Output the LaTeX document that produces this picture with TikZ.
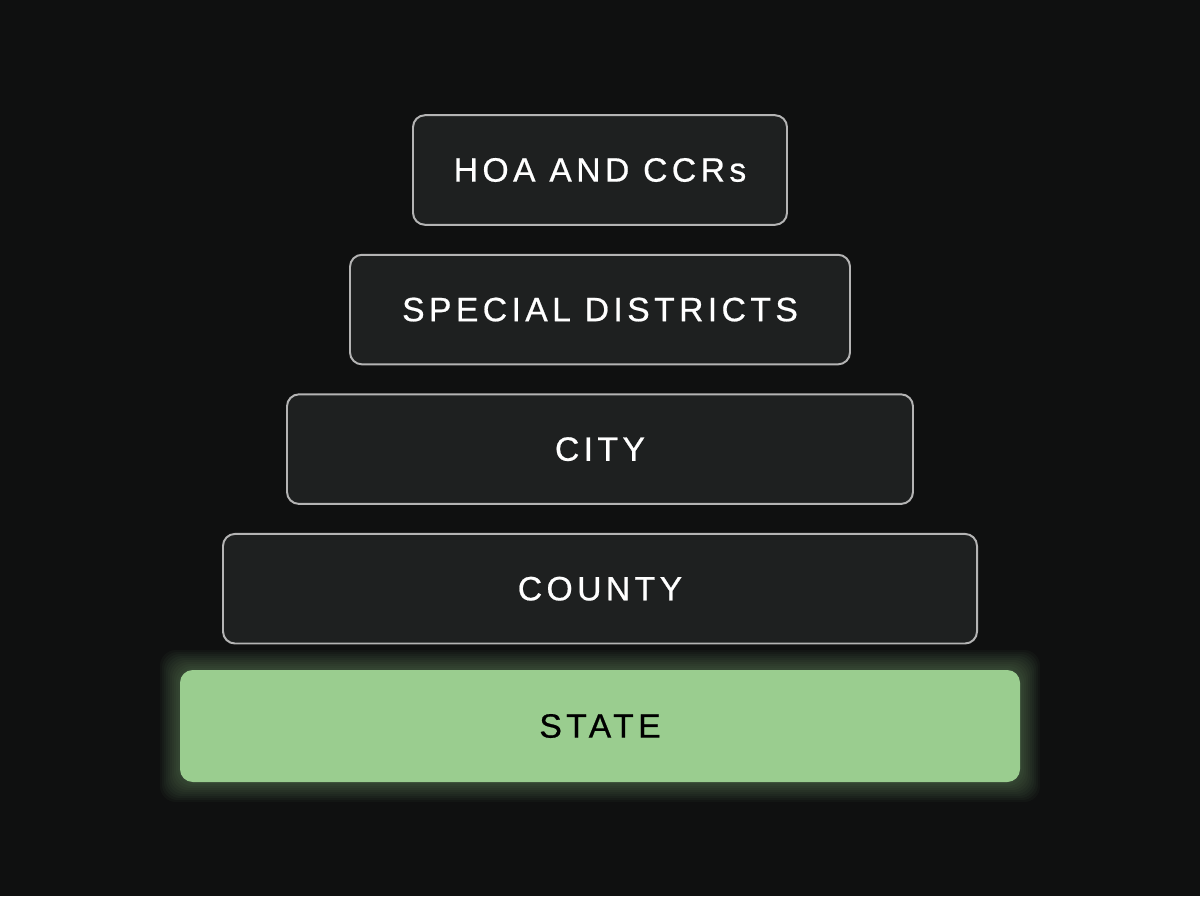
\documentclass[tikz,border=0pt]{standalone}
\usepackage{fontspec}
\setmainfont{Liberation Sans}
\usepackage{tikz}
\usetikzlibrary{positioning}
\definecolor{bgdark}{HTML}{0F1010}
\definecolor{boxfill}{HTML}{1E2020}
\definecolor{boxline}{HTML}{B4B4B4}
\definecolor{stategreen}{HTML}{9ACD8F}
\newfontfamily\tierfont[LetterSpace=13,FakeBold=0.6]{Liberation Sans}
\tikzstyle{tier} =
[
	draw=boxline,rectangle,rounded corners=0.3cm,line width=1.4pt,
	fill=boxfill,text=white,font=\tierfont\fontsize{24}{27}\selectfont,
	minimum height=2.74cm, inner sep=0pt
]
\tikzstyle{greentier} =
[
	rectangle,rounded corners=0.32cm,
	fill=stategreen,text=black,font=\tierfont\fontsize{24}{27}\selectfont,
	minimum height=2.8cm, inner sep=0pt
]

\begin{document}
\begin{tikzpicture}
\fill[bgdark] (0,0) rectangle (30,-22.4);
\useasboundingbox (0,0) rectangle (30,-22.4);

\node[tier, minimum width=9.35cm] (hoa) at (15,-4.25) {HOA AND CCRs};
\node[tier, minimum width=12.5cm] (special) [below=0.7cm of hoa] {SPECIAL DISTRICTS};
\node[tier, minimum width=15.65cm] (city) [below=0.7cm of special] {CITY};
\node[tier, minimum width=18.85cm] (county) [below=0.7cm of city] {COUNTY};

% glow behind the base tier
\coordinate (stc) at (15,-18.15);
\foreach \g in {1,...,10}
	\fill[stategreen, opacity=0.035, rounded corners=0.4cm]
		([xshift=-10.5cm-\g*0.05cm, yshift=-1.4cm-\g*0.05cm]stc)
		rectangle ([xshift=10.5cm+\g*0.05cm, yshift=1.4cm+\g*0.05cm]stc);
\node[greentier, minimum width=21cm] (state) at (stc) {STATE};

\end{tikzpicture}
\end{document}
